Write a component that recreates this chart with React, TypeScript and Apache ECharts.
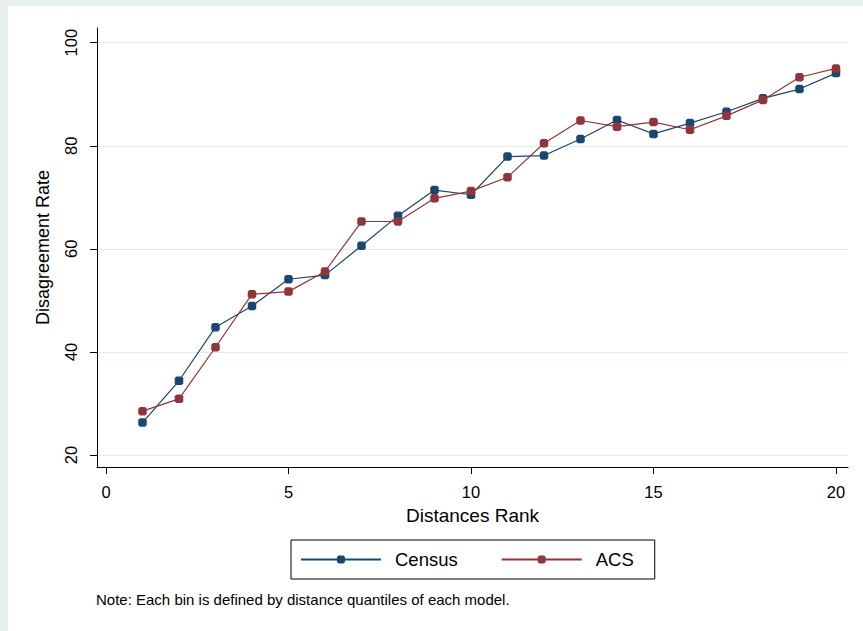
import React, { useEffect, useRef } from "react";
import * as echarts from "echarts";

const ranks = [1, 2, 3, 4, 5, 6, 7, 8, 9, 10, 11, 12, 13, 14, 15, 16, 17, 18, 19, 20];
const census = [26.3, 34.4, 44.8, 48.9, 54.1, 54.9, 60.6, 66.4, 71.4, 70.5, 77.9, 78.1, 81.3, 85.0, 82.3, 84.4, 86.6, 89.2, 91.0, 94.1];
const acs = [28.5, 30.9, 40.9, 51.2, 51.7, 55.6, 65.3, 65.3, 69.8, 71.2, 73.9, 80.5, 84.9, 83.7, 84.6, 83.1, 85.8, 88.9, 93.3, 95.0];
const xTicks = [0, 5, 10, 15, 20];
const yTicks = [20, 40, 60, 80, 100];
const seriesNames = ["Census", "ACS"];
const xTitle = "Distances Rank";
const yTitle = "Disagreement Rate";
const note = "Note: Each bin is defined by distance quantiles of each model.";

const FONT = "'Liberation Sans', Arial, Helvetica, sans-serif";
const OCT = "path://M2,0L8,0L10,2L10,8L8,10L2,10L0,8L0,2Z";
const BLUE = "#1a476f";
const RED = "#90353b";

export default function App() {
  const ref = useRef<HTMLDivElement>(null);
  useEffect(() => {
    if (!ref.current) return;
    const chart = echarts.init(ref.current, null, { renderer: "svg" });
    const mk = (name: string, vals: number[], color: string) => ({
      name,
      type: "line",
      data: ranks.map((r, i) => [r, vals[i]]),
      symbol: OCT,
      symbolSize: 8.5,
      showSymbol: true,
      lineStyle: { color, width: 1.2 },
      itemStyle: { color },
      emphasis: { disabled: true },
    });
    chart.setOption({
      animation: false,
      backgroundColor: "#e9f0f2",
      graphic: [
        { type: "rect", left: 8, top: 6, shape: { width: 860, height: 630 }, style: { fill: "#ffffff" }, z: -10 },
        {
          type: "text",
          left: 96,
          top: 592,
          style: { text: note, font: `15px ${FONT}`, fill: "#000" },
        },
      ],
      grid: { left: 97, top: 28, width: 751, height: 439, containLabel: false },
      legend: {
        data: seriesNames,
        left: 291,
        top: 540,
        orient: "horizontal",
        itemWidth: 80,
        itemHeight: 10,
        itemGap: 43,
        padding: [10, 21, 10, 9],
        borderColor: "#000",
        borderWidth: 1,
        textStyle: { fontFamily: FONT, fontSize: 18.5, color: "#000", padding: [0, 0, 0, 9], lineHeight: 19 },
      },
      xAxis: {
        type: "value",
        min: -0.2466,
        max: 20.329,
        name: xTitle,
        nameLocation: "middle",
        nameGap: 39,
        nameTextStyle: { fontFamily: FONT, fontSize: 19, color: "#000" },
        axisLine: { show: true, onZero: false, lineStyle: { color: "#000", width: 1 } },
        axisTick: { show: true, length: 7, customValues: xTicks, lineStyle: { color: "#000", width: 1 } },
        axisLabel: { customValues: xTicks, fontFamily: FONT, fontSize: 16.5, color: "#000", margin: 16, formatter: (v: number) => String(v) },
        splitLine: { show: false },
      },
      yAxis: {
        type: "value",
        min: 17.67,
        max: 102.85,
        name: yTitle,
        nameLocation: "middle",
        nameGap: 45,
        nameTextStyle: { fontFamily: FONT, fontSize: 18, color: "#000" },
        axisLine: { show: true, onZero: false, lineStyle: { color: "#000", width: 1 } },
        axisTick: { show: true, length: 7, customValues: yTicks, lineStyle: { color: "#000", width: 1 } },
        axisLabel: { customValues: yTicks, rotate: 90, fontFamily: FONT, fontSize: 16.5, color: "#000", margin: 18, formatter: (v: number) => String(v) },
        splitLine: { show: true, lineStyle: { color: "#e1eaee", width: 1.2 } },
      },
      series: [mk(seriesNames[0], census, BLUE), mk(seriesNames[1], acs, RED)],
    });
    return () => chart.dispose();
  }, []);
  return <div ref={ref} style={{ position: "fixed", left: 0, top: 0, width: 863, height: 631 }} />;
}
